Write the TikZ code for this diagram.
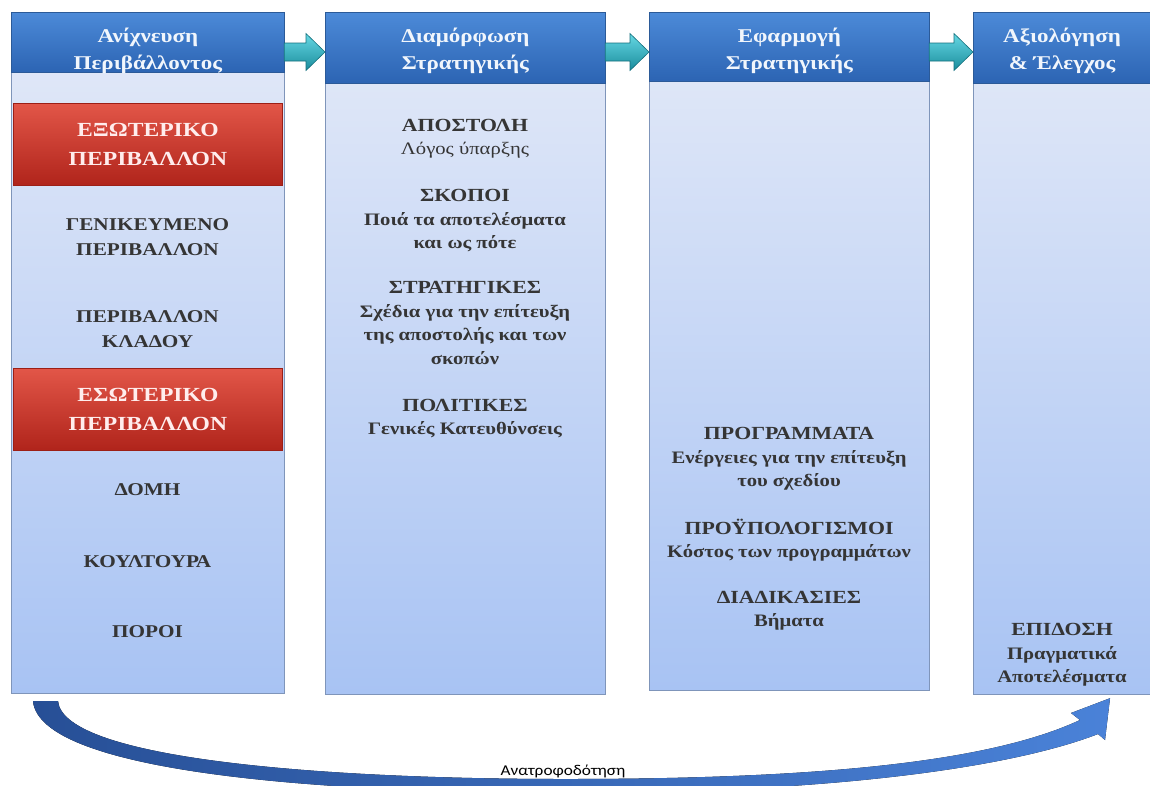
\documentclass[tikz,border=0pt]{standalone}
\usepackage{fontspec}
\setmainfont{Liberation Serif}[FakeStretch=1.18]
\newfontfamily\fbfont{Carlito}[FakeStretch=1.15]
\usetikzlibrary{calc}

\definecolor{stageTop}{HTML}{E4EAF8}
\definecolor{stageBot}{HTML}{A8C3F3}
\definecolor{stageLine}{HTML}{7F95BA}
\definecolor{headTop}{HTML}{4C8AD8}
\definecolor{headBot}{HTML}{2C64B3}
\definecolor{headLine}{HTML}{2B5A98}
\definecolor{envTop}{HTML}{E25648}
\definecolor{envBot}{HTML}{B0241B}
\definecolor{envLine}{HTML}{9C1F16}
\definecolor{arrowTop}{HTML}{66D8E4}
\definecolor{arrowBot}{HTML}{1A8C9C}
\definecolor{itemText}{HTML}{353535}
\definecolor{fbLeft}{HTML}{274F96}
\definecolor{fbRight}{HTML}{4A82D8}

\newcommand\ttl[1]{{\fontsize{18.5}{23.5}\selectfont #1}}

\tikzset{
  stage/.style={draw=stageLine, line width=1.2pt, top color=stageTop, bottom color=stageBot,
    anchor=north west, inner sep=0pt},
  stagehead/.style={draw=headLine, line width=0.8pt, top color=headTop, bottom color=headBot,
    anchor=north west, inner sep=0pt},
  headtext/.style={text=white!92!headTop, font=\bfseries\fontsize{19.5}{27}\selectfont, align=center},
  envbox/.style={draw=envLine, line width=0.8pt, top color=envTop, bottom color=envBot,
    anchor=north west, minimum width=269, minimum height=82, inner sep=0pt,
    text=white!93!red, font=\bfseries\fontsize{20}{29}\selectfont, align=center},
  item/.style={text=itemText, font=\bfseries\fontsize{18}{25}\selectfont, align=center},
  group/.style={text=itemText, font=\bfseries\fontsize{17.5}{23.5}\selectfont, align=center},
  flowarrow/.style={draw=arrowBot!80!black, line width=0.6pt, top color=arrowTop, bottom color=arrowBot},
  feedback/.style={left color=fbLeft, right color=fbRight},
  fbtext/.style={font=\fbfont\fontsize{15}{18}\selectfont, text=black}
}

\begin{document}
\begin{tikzpicture}[x=1pt,y=-1pt]
  \useasboundingbox (0,0) rectangle (1150,785);
  \clip (0,0) rectangle (1150,785);
  \fill[white] (0,0) rectangle (1150,785);

  % the four stages
  \node[stage, minimum width=273, minimum height=681] (c1) at (11,12) {};
  \node[stage, minimum width=280, minimum height=682] (c2) at (325,12) {};
  \node[stage, minimum width=280, minimum height=678] (c3) at (649,12) {};
  \node[stage, minimum width=200, minimum height=682] (c4) at (973,12) {};

  \node[stagehead, minimum width=273, minimum height=60] (h1) at (11,12) {};
  \node[stagehead, minimum width=280, minimum height=71] (h2) at (325,12) {};
  \node[stagehead, minimum width=280, minimum height=69] (h3) at (649,12) {};
  \node[stagehead, minimum width=200, minimum height=71] (h4) at (973,12) {};

  \node[headtext] (t1) at ($(h1.north)+(0,39)$) {Ανίχνευση\\Περιβάλλοντος};
  \node[headtext] (t2) at ($(h2.north)+(0,39)$) {Διαμόρφωση\\Στρατηγικής};
  \node[headtext] (t3) at ($(h3.north)+(0,39)$) {Εφαρμογή\\Στρατηγικής};
  \node[headtext] (t4) at (1062,51) {Αξιολόγηση\\\& Έλεγχος};

  % arrows between the stage heads
  \foreach \a/\b in {c1/c2,c2/c3,c3/c4}{
    \path ($(\a.north east)+(0,40)$) coordinate (s) ($(\b.north west)+(0,40)$) coordinate (t);
    \draw[flowarrow] ($(s)+(-1,-9)$) -- ($(t)+(-19,-9)$) -- ($(t)+(-19,-18.5)$) -- (t)
      -- ($(t)+(-19,18.5)$) -- ($(t)+(-19,9)$) -- ($(s)+(-1,9)$) -- cycle;
  }

  % environment scan
  \node[envbox] (ext) at (13,103) {ΕΞΩΤΕΡΙΚΟ\\ΠΕΡΙΒΑΛΛΟΝ};
  \node[item] (gen) at (147.5,237.5) {ΓΕΝΙΚΕΥΜΕΝΟ\\ΠΕΡΙΒΑΛΛΟΝ};
  \node[item] (ind) at (147.5,329.5) {ΠΕΡΙΒΑΛΛΟΝ\\ΚΛΑΔΟΥ};
  \node[envbox] (int) at (13,368) {ΕΣΩΤΕΡΙΚΟ\\ΠΕΡΙΒΑΛΛΟΝ};
  \node[item] (struct) at (147.5,490) {ΔΟΜΗ};
  \node[item] (cult) at (147.5,562) {ΚΟΥΛΤΟΥΡΑ};
  \node[item] (res) at (147.5,632) {ΠΟΡΟΙ};

  % formulation
  \node[group] (mission) at (465,138.5) {\ttl{ΑΠΟΣΤΟΛΗ}\\{\mdseries Λόγος ύπαρξης}};
  \node[group] (goals) at (465,221) {\ttl{ΣΚΟΠΟΙ}\\Ποιά τα αποτελέσματα\\και ως πότε};
  \node[group] (strat) at (465,323) {\ttl{ΣΤΡΑΤΗΓΙΚΕΣ}\\Σχέδια για την επίτευξη\\της αποστολής και των\\σκοπών};
  \node[group] (pol) at (465,418.5) {\ttl{ΠΟΛΙΤΙΚΕΣ}\\Γενικές Κατευθύνσεις};

  % implementation
  \node[group] (prog) at (789,459) {\ttl{ΠΡΟΓΡΑΜΜΑΤΑ}\\Ενέργειες για την επίτευξη\\του σχεδίου};
  \node[group] (budg) at (789,540) {\ttl{ΠΡΟΫΠΟΛΟΓΙΣΜΟΙ}\\Κόστος των προγραμμάτων};
  \node[group] (proc) at (789,610.5) {\ttl{ΔΙΑΔΙΚΑΣΙΕΣ}\\Βήματα};

  % evaluation
  \node[group] (perf) at (1062,655) {\ttl{ΕΠΙΔΟΣΗ}\\Πραγματικά\\Αποτελέσματα};

  % feedback loop
  \path ($(c1.south west)+(22,7)$) coordinate (fb1) ++(25,0) coordinate (fb2);
  \path ($(c4.south west)+(137,3)$) coordinate (fbtip);
  \fill[feedback] (fb1) .. controls (40,772) and (320,793) .. (565,793)
    .. controls (830,793) and (1010,768) .. (1098,734)
    -- (1105,740) -- (fbtip) -- (1071,713) -- (1080,720)
    .. controls (990,762) and (820,779) .. (565,779)
    .. controls (330,779) and (64,760) .. (fb2) -- cycle;
  \node[fbtext] (fbl) at (563,771) {Ανατροφοδότηση};
\end{tikzpicture}
\end{document}
